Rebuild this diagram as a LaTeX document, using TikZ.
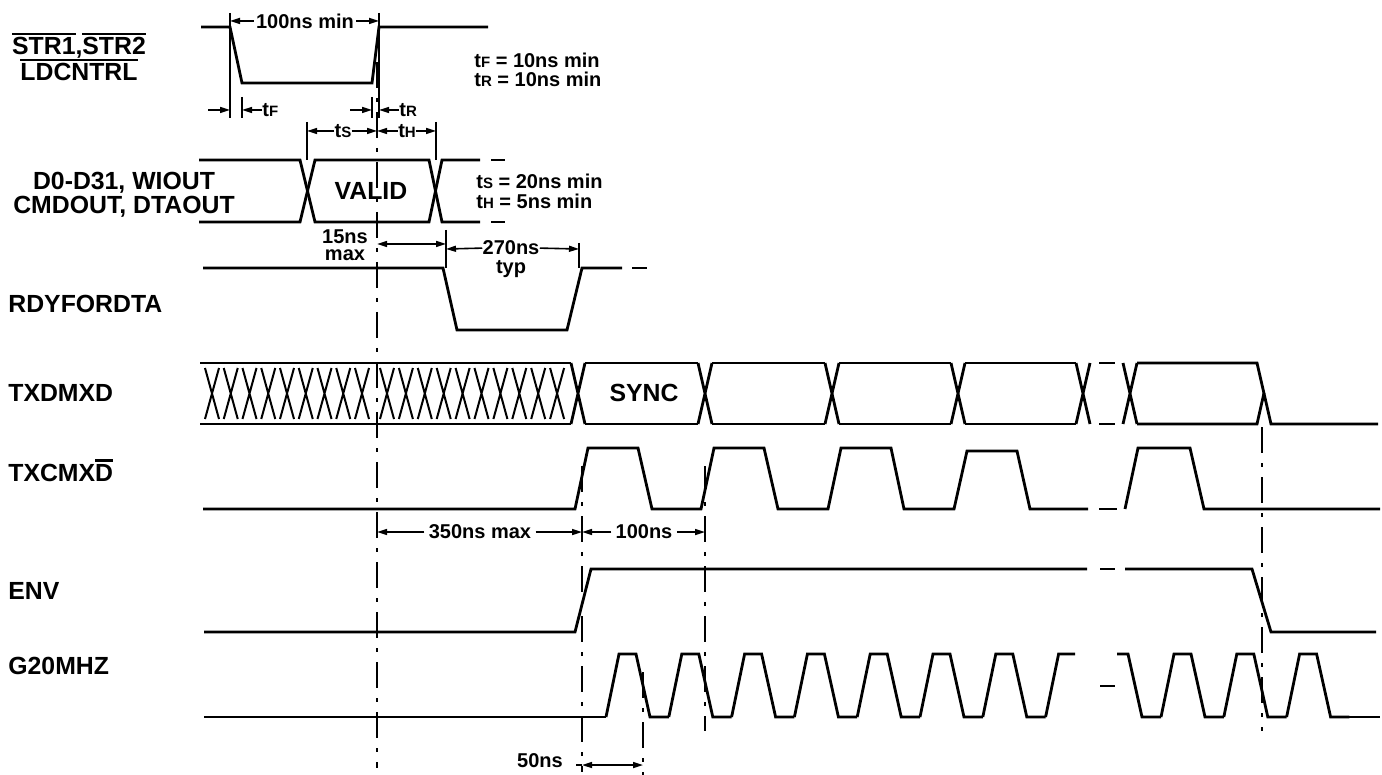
\documentclass[tikz,border=0pt]{standalone}
\usepackage{fontspec}
\setmainfont{Liberation Sans}
\usetikzlibrary{arrows.meta}

\newcommand{\obar}[1]{\leavevmode\vbox{\hrule height 1.3pt\kern 1.1pt\hbox{#1}}}
\newcommand{\tsub}[2]{#1{\fontsize{7.5}{8}\selectfont #2}}

\tikzset{
    wave/.style={line width=1.4pt, line join=miter},
    xline/.style={line width=1pt},
    guide/.style={line width=1pt},
    refline/.style={line width=1pt, dash pattern=on 13pt off 5pt on 2pt off 5pt},
    dimarrow/.style={line width=0.8pt, -{Triangle[length=5pt,width=3pt]}},
    dimboth/.style={line width=0.8pt, {Triangle[length=5pt,width=3pt]}-{Triangle[length=5pt,width=3pt]}},
    lbl/.style={font=\fontsize{12.4}{14}\selectfont\bfseries, inner sep=0pt},
    note/.style={font=\fontsize{10}{12}\selectfont\bfseries, inner sep=0pt},
}

\begin{document}
\begin{tikzpicture}[x=0.5pt, y=-0.5pt]
    \useasboundingbox (0,0) rectangle (1382,775);

    % signal names
    \node[lbl, anchor=base] (strname) at (79,55) {\obar{STR1},\obar{STR2}};
    \node[lbl, anchor=base] (ldname) at (79,81) {\obar{LDCNTRL}};
    \node[lbl, anchor=base] (dname) at (124,190) {D0-D31, WIOUT};
    \node[lbl, anchor=base] (cname) at (124,214) {CMDOUT, DTAOUT};
    \node[lbl, anchor=base west] (rdyname) at (8,313) {RDYFORDTA};
    \node[lbl, anchor=base west] (txdname) at (8,401) {TXDMXD};
    \node[lbl, anchor=base west] (txcname) at (8,481) {TXCMX\obar{D}};
    \node[lbl, anchor=base west] (envname) at (8,599) {ENV};
    \node[lbl, anchor=base west] (gname) at (8,674) {G20MHZ};

    % dash-dot reference lines
    \draw[refline] (377,62) -- (377,768);
    \draw[refline] (582,466) -- (582,772);
    \draw[refline] (705,466) -- (705,731);
    \draw[refline] (643,672) -- (643,775);
    \draw[refline] (1262,427) -- (1262,731);

    % STR1, STR2, LDCNTRL strobe
    \draw[wave] (201,27) -- (230,27) -- (242,83) -- (372,83) -- (379,27) -- (488,27);
    \draw[guide] (230,13) -- (230,118);
    \draw[guide] (242,97) -- (242,118);
    \draw[guide] (372,97) -- (372,118);
    \draw[guide] (379,13) -- (379,118);
    \node[note, fill=white, inner xsep=1pt] (pw) at (305,21) {100ns min};
    \draw[dimarrow] (pw.west) -- (230,21);
    \draw[dimarrow] (pw.east) -- (379,21);
    \draw[dimarrow] (208,110) -- (230,110);
    \node[note, anchor=west] (tf) at (262,110) {\tsub{t}{F}};
    \draw[dimarrow] (tf.west) -- (242,110);
    \draw[dimarrow] (350,110) -- (372,110);
    \node[note, anchor=west] (tr) at (399,110) {\tsub{t}{R}};
    \draw[dimarrow] (tr.west) -- (379,110);
    \node[note, anchor=base west] (tfval) at (474,68) {\tsub{t}{F} = 10ns min};
    \node[note, anchor=base west] (trval) at (474,87) {\tsub{t}{R} = 10ns min};

    % data bus
    \draw[wave] (199,160) -- (300,160) -- (315,222) -- (429,222) -- (442,160) -- (480,160);
    \draw[wave] (199,222) -- (300,222) -- (315,160) -- (429,160) -- (442,222) -- (480,222);
    \draw[wave] (491,160) -- (505,160) (491,222) -- (505,222);
    \node[lbl] (valid) at (371,191) {VALID};
    \draw[guide] (307,122) -- (307,160);
    \draw[guide] (436,122) -- (436,160);
    \node[note] (ts) at (343,131) {\tsub{t}{S}};
    \draw[dimarrow] (ts.west) -- (307,131);
    \draw[dimarrow] (ts.east) -- (377,131);
    \node[note] (th) at (407,131) {\tsub{t}{H}};
    \draw[dimarrow] (th.west) -- (377,131);
    \draw[dimarrow] (th.east) -- (436,131);
    \node[note, anchor=base west] (tsval) at (476,189) {\tsub{t}{S} = 20ns min};
    \node[note, anchor=base west] (thval) at (476,209) {\tsub{t}{H} = 5ns min};

    % RDYFORDTA
    \node[note, anchor=base] (d15) at (345,244) {15ns};
    \node[note, anchor=base] (d15b) at (345,261) {max};
    \draw[dimboth] (377,244) -- (446,244);
    \draw[guide] (446,230) -- (446,268);
    \draw[guide] (579,243) -- (579,268);
    \node[note, anchor=base] (d270) at (511,255) {270ns};
    \node[note, anchor=base] (d270b) at (511,274) {typ};
    \draw[dimarrow] (d270.west) -- (446,249);
    \draw[dimarrow] (d270.east) -- (579,249);
    \draw[wave] (203,268) -- (443,268) -- (457,330) -- (567,330) -- (582,268) -- (622,268);
    \draw[wave] (632,268) -- (647,268);

    % TXDMXD
    \draw[wave] (200,363) -- (571,363) (200,424) -- (571,424);
    \foreach \k in {0,...,8}
        \draw[xline] (212+18.75*\k-7,368) -- (212+18.75*\k+7,419)
                     (212+18.75*\k+7,368) -- (212+18.75*\k-7,419);
    \foreach \k in {0,...,9}
        \draw[xline] (387+18.9*\k-7,368) -- (387+18.9*\k+7,419)
                     (387+18.9*\k+7,368) -- (387+18.9*\k-7,419);
    \foreach \a/\b in {578/705, 705/832, 832/958, 958/1083}
        \draw[wave] (\a+7,363) -- (\b-7,363) (\a+7,424) -- (\b-7,424);
    \foreach \c in {578,705,832,958,1083,1130}
        \draw[wave] (\c-7,363) -- (\c+7,424) (\c-7,424) -- (\c+7,363);
    \draw[wave] (1099,363) -- (1115,363) (1099,424) -- (1115,424);
    \draw[wave] (1137,363) -- (1257,363) -- (1271,424) -- (1378,424);
    \draw[wave] (1137,424) -- (1257,424) -- (1264,393);
    \node[lbl] (sync) at (644,393) {SYNC};

    % TXCMXD
    \draw[wave] (203,509) -- (575,509) -- (588,448) -- (638,448) -- (652,509)
        -- (701,509) -- (714,448) -- (764,448) -- (778,509)
        -- (828,509) -- (841,448) -- (891,448) -- (904,509)
        -- (954,509) -- (967,451) -- (1017,451) -- (1030,509) -- (1088,509);
    \draw[wave] (1099,509) -- (1117,509);
    \draw[wave] (1125,509) -- (1138,448) -- (1190,448) -- (1204,509) -- (1380,509);
    \node[note, inner xsep=2pt] (d350) at (480,532) {350ns max};
    \draw[dimarrow] (d350.west) -- (377,532);
    \draw[dimarrow] (d350.east) -- (582,532);
    \node[note, inner xsep=2pt] (d100) at (644,532) {100ns};
    \draw[dimarrow] (d100.west) -- (582,532);
    \draw[dimarrow] (d100.east) -- (705,532);

    % ENV
    \draw[wave] (204,632) -- (575,632) -- (591,569) -- (1087,569);
    \draw[wave] (1100,569) -- (1115,569);
    \draw[wave] (1125,569) -- (1252,569) -- (1271,632) -- (1376,632);

    % G20MHZ
    \draw[wave] (204,717) -- (606,717);
    \foreach \k in {0,...,6}
        \draw[wave] (606+62.8*\k,717) -- (619+62.8*\k,654) -- (636+62.8*\k,654)
            -- (650+62.8*\k,717) -- (668.8+62.8*\k,717);
    \draw[wave] (1045.6,717) -- (1058.6,654) -- (1075,654);
    \draw[wave] (1100,686) -- (1115,686);
    \draw[wave] (1117,654) -- (1128,654) -- (1142,717) -- (1161,717);
    \foreach \k in {0,1,2}
        \draw[wave] (1161+62.8*\k,717) -- (1174+62.8*\k,654) -- (1191+62.8*\k,654)
            -- (1205+62.8*\k,717) -- (1223.8+62.8*\k,717);
    \draw[wave] (1349,717) -- (1380,717);
    \draw[guide] (576,765) -- (582,765);
    \draw[dimboth] (582,765) -- (643,765);
    \node[note, anchor=base] (d50) at (540,767) {50ns};
\end{tikzpicture}
\end{document}
